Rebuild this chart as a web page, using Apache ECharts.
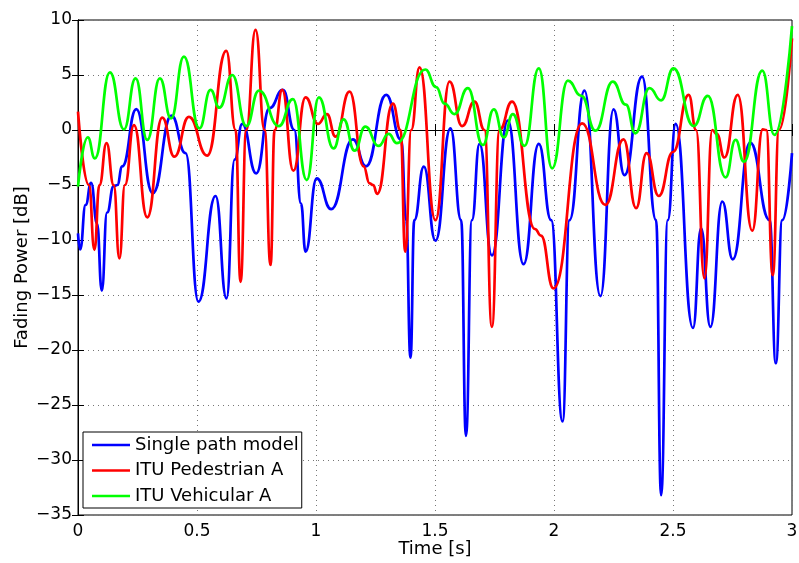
<!DOCTYPE html>
<html>
<head>
<meta charset="utf-8">
<script src="https://cdn.jsdelivr.net/npm/echarts@6/dist/echarts.min.js"></script>
<style>
html,body{margin:0;padding:0;background:#fff;}
#chart{width:799px;height:563px;}
</style>
</head>
<body>
<div id="chart"></div>
<script>
const seriesNames = ['Single path model', 'ITU Pedestrian A', 'ITU Vehicular A'];
const xTicks = [0, 0.5, 1, 1.5, 2, 2.5, 3];
const yTicks = [-35, -30, -25, -20, -15, -10, -5, 0, 5, 10];

// [time (s), fading power (dB)]
const singlePath = [
  [0.000,-9.4],[0.009,-10.85],[0.032,-6.8],[0.055,-4.8],[0.080,-8.5],[0.100,-14.6],[0.122,-7.5],
  [0.150,-5.1],[0.165,-5.0],[0.186,-3.3],[0.245,1.9],[0.314,-5.75],[0.393,1.3],[0.452,-2.1],
  [0.506,-15.6],[0.578,-6.0],[0.624,-15.3],[0.658,-2.7],[0.690,0.55],
  [0.749,-3.94],[0.805,2.0],[0.861,3.64],[0.909,0.0],[0.937,-6.7],[0.956,-11.06],[1.003,-4.4],
  [1.064,-7.2],[1.155,-0.85],[1.210,-3.3],[1.295,3.2],[1.358,-0.9],[1.379,-8.2],[1.397,-20.7],
  [1.413,-8.2],[1.453,-3.33],[1.502,-10.06],[1.565,0.15],[1.610,-8.2],[1.630,-27.8],
  [1.655,-8.2],[1.687,-1.27],[1.739,-11.4],[1.806,0.85],[1.872,-12.2],[1.936,-1.27],
  [1.988,-8.2],[2.036,-26.5],[2.065,-8.2],[2.128,3.58],[2.195,-15.1],[2.250,1.88],[2.296,-4.1],
  [2.370,4.85],[2.429,-8.2],[2.450,-33.2],[2.478,-8.2],[2.511,0.55],[2.584,-18.0],[2.618,-8.94],
  [2.657,-17.9],[2.707,-6.5],[2.751,-11.76],[2.824,-1.15],[2.906,-8.2],[2.932,-21.2],[2.959,-8.2],
  [3.000,-2.1]
];
const pedestrianA = [
  [0.000,1.67],[0.046,-5.0],[0.069,-10.9],[0.090,-5.0],[0.120,-1.2],[0.150,-5.0],[0.174,-11.67],
  [0.197,-5.0],[0.235,0.45],[0.291,-7.94],[0.354,1.12],[0.405,-2.42],[0.466,1.2],[0.543,-2.33],
  [0.623,7.2],[0.662,0.0],[0.683,-13.8],[0.707,0.0],[0.746,9.1],
  [0.784,0.0],[0.809,-12.27],[0.826,0.0],[0.858,3.64],[0.905,-3.7],
  [0.956,2.97],[1.008,0.55],[1.046,1.45],[1.082,-0.6],[1.141,3.48],[1.200,-3.3],[1.225,-4.85],
  [1.240,-5.0],[1.257,-5.8],[1.323,2.4],[1.355,0.0],[1.375,-11.06],
  [1.400,0.0],[1.435,5.7],[1.502,-8.2],[1.561,4.4],[1.614,0.36],[1.666,2.58],[1.708,0.0],
  [1.739,-17.9],[1.771,0.0],[1.824,2.58],[1.920,-9.0],[1.945,-9.6],
  [1.998,-14.4],[2.118,0.6],[2.216,-6.8],[2.292,-0.85],[2.345,-7.1],[2.389,-2.1],[2.440,-6.0],
  [2.500,-2.0],[2.566,3.2],[2.597,0.0],[2.632,-13.5],[2.665,0.0],
  [2.684,-0.36],[2.716,-2.5],[2.772,3.2],[2.833,-9.15],[2.877,0.06],[2.892,0.0],
  [2.919,-13.2],[2.945,0.0],[3.000,8.33]
];
const vehicularA = [
  [0.000,-5.15],[0.041,-0.67],[0.071,-2.58],[0.134,5.24],[0.193,0.06],[0.242,4.7],[0.291,-0.9],
  [0.344,4.7],[0.391,1.06],[0.445,6.67],[0.510,0.15],[0.557,3.64],[0.594,2.03],[0.648,5.0],
  [0.707,0.36],[0.760,3.58],[0.844,0.36],[0.903,2.8],[0.961,-4.55],[1.012,2.97],[1.074,-1.67],
  [1.116,0.97],[1.162,-1.88],[1.207,0.3],[1.263,-1.45],[1.305,-0.36],[1.340,-1.2],[1.459,5.5],
  [1.505,3.9],[1.540,2.4],[1.582,1.45],[1.638,3.8],[1.701,-1.36],[1.747,1.88],[1.789,-0.67],
  [1.827,1.45],[1.876,-1.45],[1.936,5.6],[1.992,-3.48],[2.058,4.48],[2.115,3.1],[2.174,-0.06],
  [2.247,4.4],[2.302,2.3],[2.342,-0.3],[2.401,3.8],[2.450,2.7],[2.502,5.6],[2.587,0.36],
  [2.646,3.1],[2.721,-4.3],[2.763,-0.9],[2.798,-2.88],[2.875,5.4],[2.926,-0.45],[3.000,9.45]
];
const seriesData = [singlePath, pedestrianA, vehicularA];
const seriesColors = ['#0000ff', '#ff0000', '#00ff00'];

const FONT = 'DejaVu Sans';
const fmtY = v => (v < 0 ? '\u2212' + Math.abs(v) : String(v));

const chart = echarts.init(document.getElementById('chart'), null, {renderer: 'canvas'});
const baseAxisLine = {show: true, lineStyle: {color: '#000', width: 1}};
const option = {
  animation: false,
  backgroundColor: '#fff',
  grid: {left: 78, top: 20, right: 7, bottom: 48, show: true, borderColor: '#000', borderWidth: 1,
         backgroundColor: 'transparent', containLabel: false, outerBoundsMode: 'none'},
  legend: {
    orient: 'vertical', left: 83, top: 432,
    data: seriesNames,
    icon: 'rect',
    backgroundColor: '#fff', borderColor: '#000', borderWidth: 1,
    padding: [4, 3, 3, 9],
    itemWidth: 38, itemHeight: 2.5, itemGap: 7.5,
    textStyle: {fontFamily: FONT, fontSize: 18, color: '#000', lineHeight: 18}
  },
  xAxis: [{
    type: 'value', min: 0, max: 3, interval: 0.5,
    name: 'Time [s]', nameLocation: 'middle', nameGap: 25, nameMoveOverlap: false,
    nameTextStyle: {fontFamily: FONT, fontSize: 18, color: '#000'},
    axisLine: baseAxisLine,
    axisTick: {show: true, inside: true, length: 6, lineStyle: {color: '#000'}},
    axisLabel: {fontFamily: FONT, fontSize: 17, color: '#000', margin: 8, formatter: v => (xTicks.indexOf(v) >= 0 ? String(v) : '')},
    splitLine: {show: true, lineStyle: {color: '#777', type: [1, 4], width: 1}}
  }, {
    type: 'value', position: 'top', min: 0, max: 3, interval: 0.5,
    axisLine: baseAxisLine,
    axisTick: {show: true, inside: true, length: 6, lineStyle: {color: '#000'}},
    axisLabel: {show: false}, splitLine: {show: false}
  }],
  yAxis: [{
    type: 'value', min: -35, max: 10, interval: 5,
    name: 'Fading Power [dB]', nameLocation: 'middle', nameGap: 47, nameMoveOverlap: false,
    nameTextStyle: {fontFamily: FONT, fontSize: 18, color: '#000'},
    axisLine: baseAxisLine,
    axisTick: {show: true, inside: true, length: 6, lineStyle: {color: '#000'}},
    axisLabel: {fontFamily: FONT, fontSize: 17, color: '#000', margin: 6, formatter: v => (yTicks.indexOf(v) >= 0 ? fmtY(v) : '')},
    splitLine: {show: true, lineStyle: {color: '#777', type: [1, 4], width: 1}}
  }, {
    type: 'value', position: 'right', min: -35, max: 10, interval: 5,
    axisLine: baseAxisLine,
    axisTick: {show: true, inside: true, length: 6, lineStyle: {color: '#000'}},
    axisLabel: {show: false}, splitLine: {show: false}
  }],
  series: seriesNames.map((name, i) => ({
    name: name, type: 'line', data: seriesData[i],
    xAxisIndex: 0, yAxisIndex: 0,
    symbol: 'none', smooth: 0.5, smoothMonotone: 'x',
    lineStyle: {color: seriesColors[i], width: 2.7},
    itemStyle: {color: seriesColors[i]},
    clip: true
  }))
};
chart.setOption(option);
</script>
</body>
</html>
